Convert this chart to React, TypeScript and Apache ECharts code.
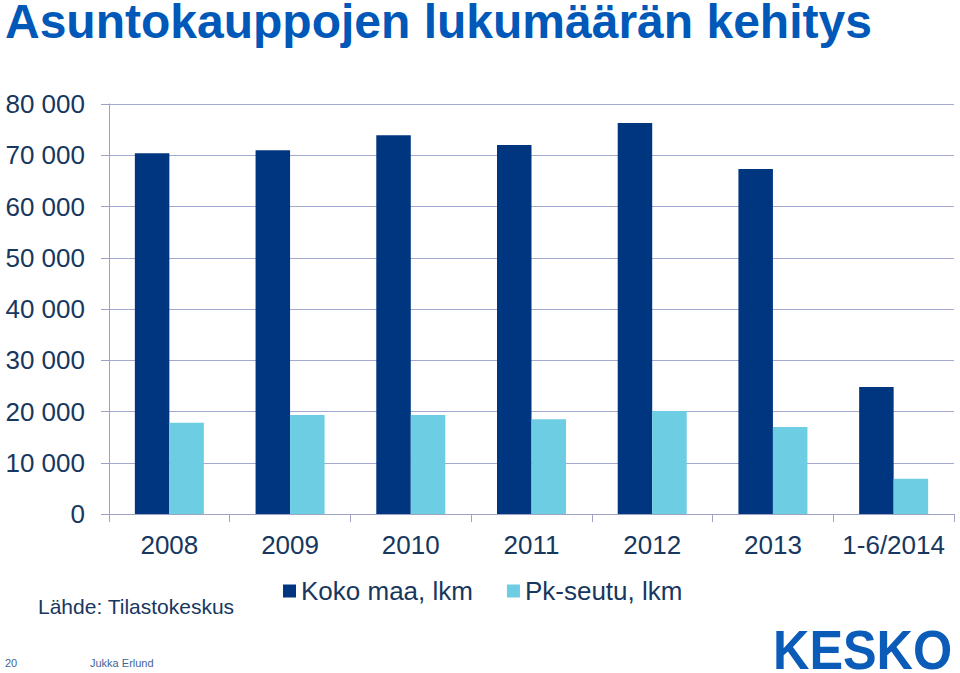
import React, { useEffect, useRef } from "react";
import * as echarts from "echarts";

const categories = ["2008", "2009", "2010", "2011", "2012", "2013", "1-6/2014"];
const kokoMaa = [70400, 71000, 73900, 72000, 76300, 67300, 24800];
const pkSeutu = [17800, 19300, 19300, 18500, 20100, 17000, 6900];
const seriesNames = ["Koko maa, lkm", "Pk-seutu, lkm"];
const yMin = 0;
const yMax = 80000;
const yStep = 10000;

const TEXT = "#17375e";
const GRID = "#a4a9cf";
const AXIS = "#9ea3c6";
const FONT = "'Liberation Sans', Arial, sans-serif";

export default function App() {
  const ref = useRef<HTMLDivElement>(null);
  useEffect(() => {
    if (!ref.current) return;
    const chart = echarts.init(ref.current, undefined, { renderer: "svg" });
    chart.setOption({
      animation: false,
      backgroundColor: "#ffffff",
      textStyle: { fontFamily: FONT },
      grid: { left: 109, right: 6, top: 104, bottom: 159, containLabel: false },
      legend: {
        data: seriesNames,
        left: 278,
        top: 573,
        icon: "rect",
        itemWidth: 13,
        itemHeight: 13,
        itemGap: 34,
        textStyle: { fontSize: 26, color: TEXT, fontFamily: FONT },
      },
      xAxis: {
        type: "category",
        data: categories,
        axisLine: { show: true, lineStyle: { color: AXIS, width: 1 } },
        axisTick: { show: true, length: 8, lineStyle: { color: AXIS } },
        axisLabel: {
          fontSize: 26,
          color: TEXT,
          margin: 18,
          interval: 0,
          fontFamily: FONT,
        },
      },
      yAxis: {
        type: "value",
        min: yMin,
        max: yMax,
        interval: yStep,
        axisLine: { show: true, lineStyle: { color: AXIS, width: 1 } },
        axisTick: { show: true, length: 8, lineStyle: { color: AXIS } },
        splitLine: { show: true, lineStyle: { color: GRID, width: 1 } },
        axisLabel: {
          fontSize: 26,
          color: TEXT,
          margin: 24,
          fontFamily: FONT,
          formatter: (v: number) =>
            String(v).replace(/\B(?=(\d{3})+(?!\d))/g, " "),
        },
      },
      series: [
        {
          name: seriesNames[0],
          type: "bar",
          data: kokoMaa,
          barWidth: 34.5,
          barGap: "0%",
          itemStyle: { color: "#003580" },
        },
        {
          name: seriesNames[1],
          type: "bar",
          data: pkSeutu,
          barWidth: 34.5,
          barGap: "0%",
          itemStyle: { color: "#6ccde3" },
        },
      ],
      graphic: [
        {
          type: "text",
          x: 5,
          y: 21,
          style: {
            text: "Asuntokauppojen lukumäärän kehitys",
            fontSize: 48,
            lineHeight: 40,
            fontWeight: "bold",
            fontFamily: FONT,
            fill: "#0058b8",
            verticalAlign: "middle",
          },
        },
        {
          type: "text",
          left: 38,
          top: 596,
          style: {
            text: "Lähde: Tilastokeskus",
            fontSize: 21,
            fontFamily: FONT,
            fill: TEXT,
          },
        },
        {
          type: "text",
          left: 5,
          top: 657,
          style: { text: "20", fontSize: 11, fontFamily: FONT, fill: "#3f6496" },
        },
        {
          type: "text",
          left: 90,
          top: 657,
          style: { text: "Jukka Erlund", fontSize: 11, fontFamily: FONT, fill: "#3f6496" },
        },
        {
          type: "text",
          x: 773,
          y: 650,
          scaleX: 0.9,
          style: {
            text: "KESKO",
            fontSize: 56,
            lineHeight: 42,
            fontWeight: 900,
            fontFamily: FONT,
            fill: "#0a5cb8",
            verticalAlign: "middle",
          },
        },
      ],
    });
    return () => chart.dispose();
  }, []);
  return (
    <div
      ref={ref}
      style={{ position: "fixed", left: 0, top: 0, width: 960, height: 673 }}
    />
  );
}
